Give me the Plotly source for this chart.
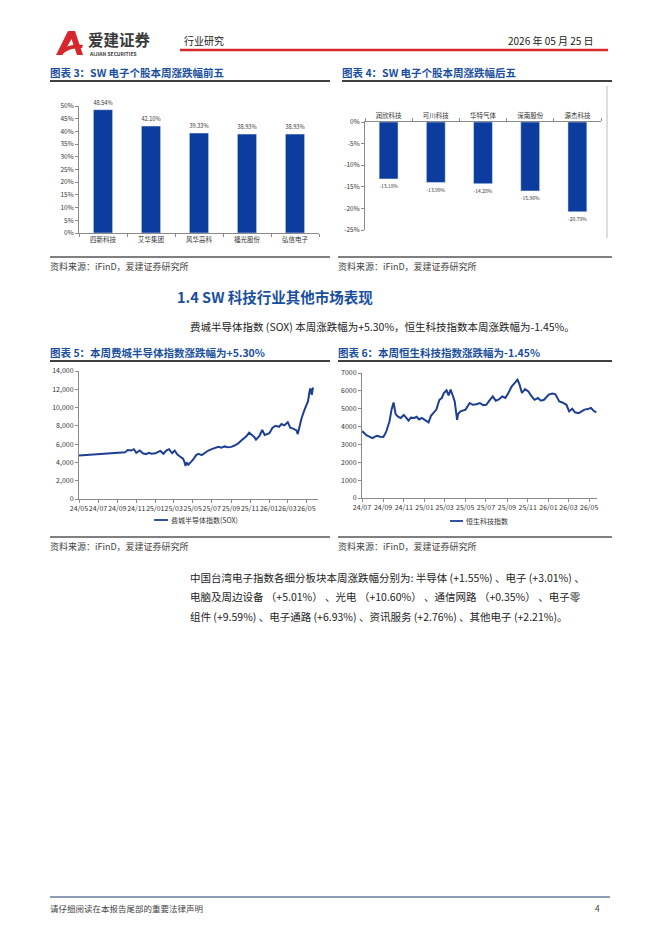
import plotly.graph_objects as go

# 图表3 / 图表4：SW 电子个股本周涨跌幅
top5_names = ["四新科技", "艾华集团", "风华高科", "福光股份", "弘信电子"]
top5_pct = [48.54, 42.10, 39.33, 38.93, 38.93]

bottom5_names = ["润欣科技", "可川科技", "华特气体", "深南股份", "源杰科技"]
bottom5_pct = [-13.18, -13.99, -14.28, -15.96, -20.79]
bottom5_ticks = [0, -5, -10, -15, -20, -25]
bottom5_ticktext = ["0%", "-5%", "-10%", "-15%", "-20%", "-25%"]

# 图表5：费城半导体指数(SOX)
sox_dates = [
    "2024-05-01", "2024-09-26", "2024-10-04", "2024-10-15", "2024-10-24", "2024-11-01",
    "2024-11-12", "2024-11-22", "2024-12-02", "2024-12-11", "2024-12-20", "2025-01-02",
    "2025-01-10", "2025-01-17", "2025-01-27", "2025-02-05", "2025-02-14", "2025-02-24",
    "2025-03-04", "2025-03-12", "2025-03-21", "2025-03-31", "2025-04-04", "2025-04-08",
    "2025-04-11", "2025-04-17", "2025-04-24", "2025-05-02", "2025-05-12", "2025-05-20",
    "2025-05-30", "2025-06-10", "2025-06-20", "2025-07-01", "2025-07-11", "2025-07-22",
    "2025-08-01", "2025-08-12", "2025-08-22", "2025-09-02", "2025-09-12", "2025-09-23",
    "2025-10-02", "2025-10-10", "2025-10-20", "2025-10-29", "2025-11-06", "2025-11-14",
    "2025-11-20", "2025-12-01", "2025-12-10", "2025-12-18", "2026-01-02", "2026-01-12",
    "2026-01-22", "2026-02-02", "2026-02-10", "2026-02-19", "2026-03-02", "2026-03-10",
    "2026-03-19", "2026-03-30", "2026-04-03", "2026-04-08", "2026-04-15", "2026-04-24",
    "2026-05-01", "2026-05-06", "2026-05-11", "2026-05-14", "2026-05-18", "2026-05-22",
]
sox_values = [
    4750, 5100, 5350, 5300, 5450, 5050,
    5300, 5000, 4900, 5050, 4950, 5000,
    5150, 5250, 4950, 5300, 5450, 5000,
    5300, 4900, 4650, 4400, 4100, 3600,
    4000, 3750, 4000, 4300, 4800, 4950,
    4800, 5100, 5300, 5450, 5600, 5700,
    5600, 5750, 5650, 5700, 5850, 6050,
    6350, 6600, 6850, 7250, 7000, 6800,
    6500, 6900, 7550, 7000, 7200, 7800,
    8000, 7900, 8200, 8050, 8400, 7800,
    7700, 7500, 7100, 7900, 8800, 9700,
    10400, 10700, 11800, 12100, 11400, 12200,
]

# 图表6：恒生科技指数
hst_dates = [
    "2024-07-01", "2024-07-08", "2024-07-15", "2024-07-24", "2024-08-01", "2024-08-08",
    "2024-08-15", "2024-08-23", "2024-09-02", "2024-09-10", "2024-09-20", "2024-09-26",
    "2024-10-02", "2024-10-08", "2024-10-15", "2024-10-23", "2024-11-01", "2024-11-08",
    "2024-11-15", "2024-11-22", "2024-12-02", "2024-12-09", "2024-12-16", "2024-12-24",
    "2025-01-02", "2025-01-13", "2025-01-20", "2025-01-27", "2025-02-05", "2025-02-14",
    "2025-02-21", "2025-02-27", "2025-03-07", "2025-03-13", "2025-03-19", "2025-03-26",
    "2025-03-31", "2025-04-07", "2025-04-10", "2025-04-17", "2025-04-25", "2025-05-02",
    "2025-05-14", "2025-05-23", "2025-06-03", "2025-06-13", "2025-06-23", "2025-07-02",
    "2025-07-11", "2025-07-21", "2025-07-30", "2025-08-08", "2025-08-18", "2025-08-27",
    "2025-09-05", "2025-09-15", "2025-09-24", "2025-10-02", "2025-10-08", "2025-10-15",
    "2025-10-24", "2025-11-03", "2025-11-12", "2025-11-21", "2025-12-01", "2025-12-10",
    "2025-12-19", "2026-01-02", "2026-01-12", "2026-01-21", "2026-02-02", "2026-02-11",
    "2026-02-23", "2026-03-03", "2026-03-12", "2026-03-20", "2026-03-31", "2026-04-09",
    "2026-04-17", "2026-04-27", "2026-05-06", "2026-05-13", "2026-05-22",
]
hst_values = [
    3750, 3620, 3500, 3420, 3350, 3440,
    3480, 3430, 3420, 3700, 4300, 4950,
    5350, 4700, 4550, 4480, 4650, 4500,
    4330, 4500, 4480, 4550, 4400, 4480,
    4380, 4230, 4600, 4750, 4950, 5500,
    5600, 5880, 6030, 5750, 6070, 5700,
    5410, 4380, 4700, 4850, 4900, 4950,
    5320, 5220, 5250, 5320, 5200, 5220,
    5450, 5690, 5450, 5520, 5690, 5600,
    5880, 6250, 6450, 6630, 6350, 5880,
    6100, 5970, 5700, 5500, 5600, 5450,
    5500, 5790, 5850, 5820, 5410, 5350,
    5220, 4850, 5000, 4800, 4750, 4880,
    4950, 4980, 5050, 4900, 4800,
]

W, H = 662, 936
BLUE = "#1a4fa0"
BAR = "#0b3c9e"
LINE = "#1d3f93"
TXT = "#333333"
CJK = "Noto Sans CJK SC"


def dom_x(a, b):
    return [a / W, b / W]


def dom_y(top, bottom):
    return [1 - bottom / H, 1 - top / H]


fig = go.Figure()

fig.add_trace(go.Bar(
    x=top5_names, y=top5_pct, marker_color=BAR, width=0.4,
    text=[f"{v:.2f}%" for v in top5_pct], textposition="outside",
    textfont=dict(size=6.5, color=TXT), cliponaxis=False,
    xaxis="x", yaxis="y", showlegend=False,
))
fig.add_trace(go.Bar(
    x=bottom5_names, y=bottom5_pct, marker_color=BAR, width=0.4,
    text=[f"{v:.2f}%" for v in bottom5_pct], textposition="outside",
    textfont=dict(size=6.5, color=TXT), cliponaxis=False,
    xaxis="x2", yaxis="y2", showlegend=False,
))
fig.add_trace(go.Scatter(
    x=sox_dates, y=sox_values, mode="lines", line=dict(color=LINE, width=2),
    xaxis="x3", yaxis="y3", showlegend=False,
))
fig.add_trace(go.Scatter(
    x=hst_dates, y=hst_values, mode="lines", line=dict(color=LINE, width=2),
    xaxis="x4", yaxis="y4", showlegend=False,
))
# 页面坐标轴（像素）
fig.add_trace(go.Scatter(x=[], y=[], xaxis="x5", yaxis="y5", showlegend=False))

axis_common = dict(showgrid=False, zeroline=False, showline=True, linecolor="#8a8a8a",
                   linewidth=1, ticks="outside", tickcolor="#8a8a8a", ticklen=3,
                   automargin=False,
                   tickfont=dict(family=CJK, size=6.5, color=TXT))
date_font = dict(family=CJK, size=7, color=TXT)

fig.update_layout(
    width=W, height=H, margin=dict(l=0, r=0, t=0, b=0, pad=0, autoexpand=False),
    paper_bgcolor="white", plot_bgcolor="rgba(0,0,0,0)",
    font=dict(family=CJK, color=TXT),
    xaxis=dict(axis_common, domain=dom_x(79, 319), tickson="boundaries", anchor="y"),
    yaxis=dict(axis_common, domain=dom_y(106, 233), range=[0, 50], dtick=5,
               ticksuffix="%", anchor="x"),
    xaxis2=dict(axis_common, domain=dom_x(365, 601), tickson="boundaries", side="top",
                anchor="y2"),
    yaxis2=dict(axis_common, domain=dom_y(122, 230), range=[-25, 0],
                tickvals=bottom5_ticks, ticktext=bottom5_ticktext, anchor="x2"),
    xaxis3=dict(axis_common, domain=dom_x(79, 318), type="date",
                range=["2024-05-01", "2026-06-07"], tick0="2024-05-01", dtick="M2",
                tickformat="%y/%m", tickangle=0, anchor="y3", tickfont=date_font),
    yaxis3=dict(axis_common, domain=dom_y(371, 499), range=[0, 14000], dtick=2000,
                tickformat=",d", anchor="x3", tickfont=date_font),
    xaxis4=dict(axis_common, domain=dom_x(362, 597), type="date",
                range=["2024-07-01", "2026-05-24"], tick0="2024-07-01", dtick="M2",
                tickformat="%y/%m", tickangle=0, anchor="y4", tickfont=date_font),
    yaxis4=dict(axis_common, domain=dom_y(373, 498), range=[0, 7000], dtick=1000,
                tickformat="d", anchor="x4", tickfont=date_font),
    xaxis5=dict(domain=[0, 1], range=[0, W], visible=False, fixedrange=True),
    yaxis5=dict(domain=[0, 1], range=[H, 0], visible=False, fixedrange=True),
)

shapes = []
annots = []


def hline(x0, x1, y, color="black", width=1):
    shapes.append(dict(type="line", xref="x5", yref="y5", x0=x0, x1=x1, y0=y, y1=y,
                       line=dict(color=color, width=width)))


def text(x, y, s, size, color=TXT, bold=False, anchor="left"):
    if bold:
        s = f"<b>{s}</b>"
    annots.append(dict(xref="x5", yref="y5", x=x, y=y, text=s, showarrow=False,
                       xanchor=anchor, yanchor="middle", borderpad=0,
                       font=dict(family=CJK, size=size, color=color)))


# 页眉
shapes.append(dict(type="path", xref="x5", yref="y5",
                   path="M56,55 L68,31 L75,31 L83,55 L77,55 L71.5,39 L62.5,55 Z",
                   fillcolor="#d7262c", line=dict(width=0)))
shapes.append(dict(type="path", xref="x5", yref="y5",
                   path="M60,51 Q70,43 83,45 L82,48 Q71,47 62,54 Z",
                   fillcolor="#d7262c", line=dict(width=0)))
text(87, 39, "爱建证券", 15.5, "#3a3a3a", bold=True)
text(88, 53, "AIJIAN SECURITIES", 5, "#3a3a3a", bold=True)
text(183, 40, "行业研究", 10, "#222222")
text(595, 40, "2026 年 05 月 25 日", 10, "#222222", anchor="right")
hline(180, 608, 50, "#d7262c", 2.5)

# 图表3/4
text(49, 72, "图表 3：SW 电子个股本周涨跌幅前五", 10.5, BLUE, bold=True)
text(341, 72, "图表 4：SW 电子个股本周涨跌幅后五", 10.5, BLUE, bold=True)
hline(50, 330, 81, "black", 1.3)
hline(342, 612, 81, "black", 1.3)
shapes.append(dict(type="line", xref="x5", yref="y5", x0=607, x1=607, y0=86, y1=238,
                   line=dict(color="#bbbbbb", width=1)))
hline(50, 330, 257, "black", 1)
hline(338, 612, 257, "black", 1)
text(49, 266, "资料来源：iFinD，爱建证券研究所", 9, "#444444")
text(337, 266, "资料来源：iFinD，爱建证券研究所", 9, "#444444")

# 1.4
text(176, 296, "1.4 SW 科技行业其他市场表现", 14.5, BLUE, bold=True)
text(189, 326, "费城半导体指数 (SOX) 本周涨跌幅为+5.30%，恒生科技指数本周涨跌幅为-1.45%。",
     10.5, "#222222")

# 图表5/6
text(49, 352, "图表 5：本周费城半导体指数涨跌幅为+5.30%", 10.5, BLUE, bold=True)
text(337, 352, "图表 6：本周恒生科技指数涨跌幅为-1.45%", 10.5, BLUE, bold=True)
hline(50, 330, 361, "black", 1.3)
hline(338, 612, 361, "black", 1.3)
hline(154, 168, 520, LINE, 1.8)
text(170, 520, "费城半导体指数(SOX)", 7, TXT)
hline(450, 463, 521, LINE, 1.8)
text(465, 521, "恒生科技指数", 7, TXT)
hline(50, 330, 537, "black", 1)
hline(338, 612, 537, "black", 1)
text(49, 546, "资料来源：iFinD，爱建证券研究所", 9, "#444444")
text(337, 546, "资料来源：iFinD，爱建证券研究所", 9, "#444444")

# 正文
para = [
    "中国台湾电子指数各细分板块本周涨跌幅分别为: 半导体 (+1.55%) 、电子 (+3.01%) 、",
    "电脑及周边设备 （+5.01%） 、光电 （+10.60%） 、通信网路 （+0.35%） 、电子零",
    "组件 (+9.59%) 、电子通路 (+6.93%) 、资讯服务 (+2.76%) 、其他电子 (+2.21%)。",
]
for i, line in enumerate(para):
    text(189, 577 + i * 19.5, line, 10.5, "#222222")

# 页脚
hline(50, 610, 897, "#1f3864", 1)
text(49, 908, "请仔细阅读在本报告尾部的重要法律声明", 8.5, "#444444")
text(601, 908, "4", 8.5, "#444444", anchor="right")

fig.update_layout(shapes=shapes, annotations=annots)

fig.write_html(
    "out.html",
    config={"displayModeBar": False},
    post_script="document.body.style.margin='0';document.body.style.overflow='hidden';",
)
